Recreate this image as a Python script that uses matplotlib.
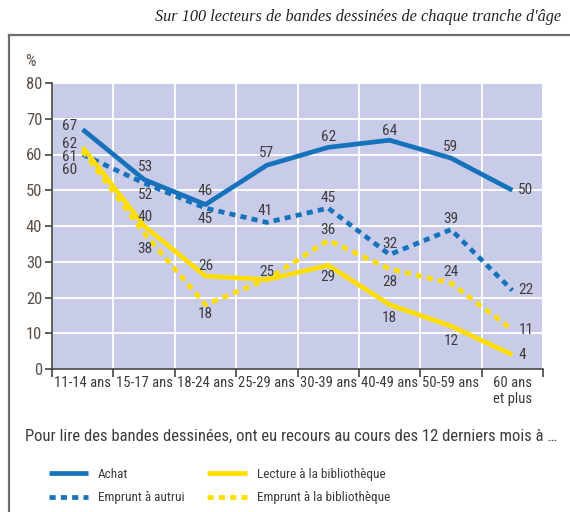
import matplotlib.pyplot as plt
from matplotlib.lines import Line2D

# data
ages = ['11-14 ans', '15-17 ans', '18-24 ans', '25-29 ans', '30-39 ans',
        '40-49 ans', '50-59 ans', '60 ans\net plus']
achat = [67, 53, 46, 57, 62, 64, 59, 50]
emprunt_autrui = [60, 52, 45, 41, 45, 32, 39, 22]
lecture_biblio = [62, 40, 26, 25, 29, 18, 12, 4]
emprunt_biblio = [61, 38, 18, 25, 36, 28, 24, 11]
yticks = [0, 10, 20, 30, 40, 50, 60, 70, 80]

# label offsets in pixels (dx, dy); 'r' = right of last point, None = no label
off_achat = [(-13, 3), (1, 13), (0, 14), (0, 12), (0, 10), (0, 9), (0, 11), 'r']
off_autrui = [(-13, -16), (1, -12), (0, -11), (-2, 11), (0, 10), (0, 11), (0, 11), 'r']
off_lect = [(-13, 3), (1, 9), (0, 10), (0, 8), (0, -12), (0, -13), (0, -15), 'r']
off_empb = [(-13, -6), (1, -16), (0, -9), None, (0, 10), (0, -13), (0, 11), 'r']

BLUE = '#1672BA'
YELLOW = '#FFDD00'
BG = '#C8CCE8'
TXT = '#3c3c3c'

plt.rcParams['font.family'] = ['Roboto Condensed', 'DejaVu Sans']

fig = plt.figure(figsize=(5.7, 5.12), dpi=100)
ax = fig.add_axes([52 / 570, 1 - 369 / 512, 491 / 570, 286 / 512])
ax.set_facecolor(BG)

x = list(range(len(ages)))
series = [
    (achat, BLUE, '-', 'Achat', off_achat),
    (emprunt_autrui, BLUE, (0, (1.3, 1.1)), 'Emprunt à autrui', off_autrui),
    (lecture_biblio, YELLOW, '-', 'Lecture à la bibliothèque', off_lect),
    (emprunt_biblio, YELLOW, (0, (1.3, 1.1)), 'Emprunt à la bibliothèque', off_empb),
]
handles = []
for vals, col, ls, lab, offs in series:
    ln, = ax.plot(x, vals, color=col, lw=3.4, ls=ls, label=lab,
                  solid_capstyle='butt', dash_capstyle='butt', zorder=3)
    handles.append(ln)
    for xi, v, o in zip(x, vals, offs):
        if o is None:
            continue
        if o == 'r':
            ax.annotate(str(v), (xi, v), xytext=(6, 0), textcoords='offset pixels',
                        ha='left', va='center', fontsize=11, color=TXT)
        else:
            ax.annotate(str(v), (xi, v), xytext=o, textcoords='offset pixels',
                        ha='center', va='center', fontsize=11, color=TXT)

ax.set_xlim(-0.5, len(ages) - 0.5)
ax.set_ylim(0, 80)
ax.set_yticks(yticks)
ax.set_xticks(x)
ax.set_xticklabels(ages, fontsize=10.5, color=TXT, linespacing=1.15)
ax.set_xticks([i - 0.5 for i in range(len(ages) + 1)], minor=True)
ax.tick_params(axis='x', which='major', length=0, pad=5)
ax.tick_params(axis='x', which='minor', length=6, width=1.2, color='#444')
ax.tick_params(axis='y', length=5, width=1.2, color='#444', labelsize=12,
               labelcolor='#5a5048', pad=2)
ax.grid(True, which='major', axis='y', color='white', lw=1.3, zorder=1)
ax.grid(True, which='minor', axis='x', color='white', lw=1.3, zorder=1)
ax.set_axisbelow(True)
for s in ['top', 'right']:
    ax.spines[s].set_visible(False)
for s in ['left', 'bottom']:
    ax.spines[s].set_color('#444')
    ax.spines[s].set_linewidth(1.2)

# frame and texts
fig.add_artist(Line2D([9 / 570, 9 / 570], [0, 1 - 35 / 512], color='#6e6e6e', lw=1.6))
fig.add_artist(Line2D([9 / 570, 1], [1 - 35 / 512, 1 - 35 / 512], color='#6e6e6e', lw=1.6))
fig.text(155 / 570, 1 - 17 / 512, "Sur 100 lecteurs de bandes dessinées de chaque tranche d'âge",
         family='Liberation Serif', style='italic', fontsize=11.7, color='#222',
         ha='left', va='center')
fig.text(30 / 570, 1 - 62 / 512, '%', fontsize=12, color='#5a5048', ha='center', va='center')
fig.text(25 / 570, 1 - 436 / 512,
         'Pour lire des bandes dessinées, ont eu recours au cours des 12 derniers mois à …',
         fontsize=12, color=TXT, ha='left', va='center')

fig.legend(handles=handles, loc='upper left', bbox_to_anchor=(42 / 570, 1 - 461 / 512),
           ncol=2, frameon=False, fontsize=9.5, handlelength=3.0, handletextpad=0.75,
           columnspacing=1.7, labelspacing=0.8, borderpad=0, labelcolor=TXT)

fig.savefig('out.png', dpi=100)
